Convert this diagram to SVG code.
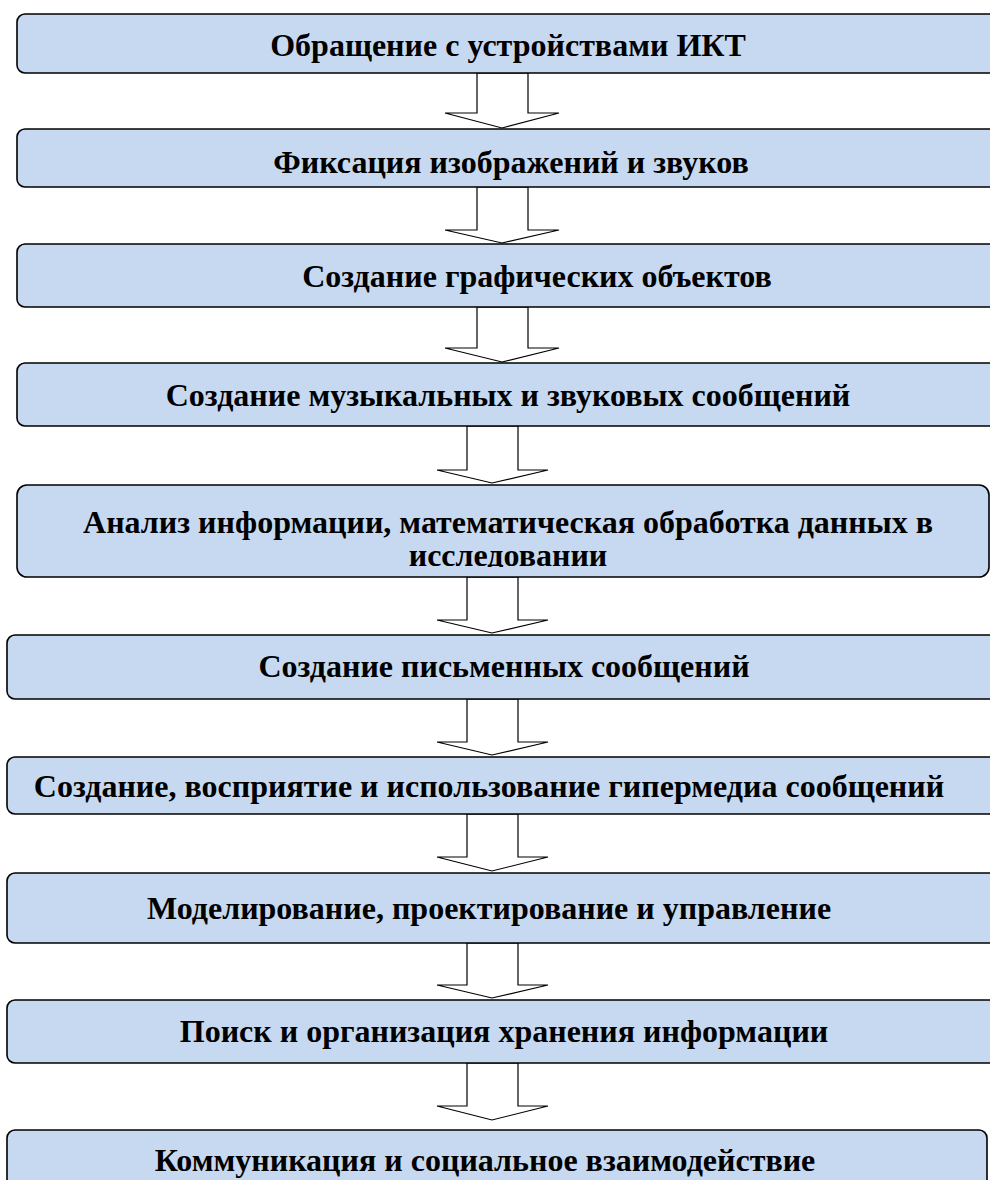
<svg xmlns="http://www.w3.org/2000/svg" width="990" height="1180" viewBox="0 0 990 1180">
<defs>
<style>
.box{fill:#C6D9F1;stroke:#000;stroke-width:1.6}
.arr{fill:#fff;stroke:#000;stroke-width:1.2;stroke-linejoin:miter}
.t{font-family:"Liberation Serif","Times New Roman",serif;font-weight:bold;font-size:32px;fill:#000;text-anchor:middle}
</style>
<clipPath id="clip5"><rect x="0" y="480" width="990" height="87"/></clipPath>
</defs>
<rect width="990" height="1180" fill="#fff"/>
<g id="connectors">
<polygon class="arr" points="477,73 528,73 528,113 559,113 502,128 445,113 477,113"/>
<polygon class="arr" points="477,187 528,187 528,230 559,230 502,243 445,230 477,230"/>
<polygon class="arr" points="477,307 528,307 528,348 559,348 502,362 445,348 477,348"/>
<polygon class="arr" points="467,426 518,426 518,470 548,470 492,483 437,470 467,470"/>
<polygon class="arr" points="467,577 518,577 518,620 548,620 492,633 437,620 467,620"/>
<polygon class="arr" points="467,699 518,699 518,742 548,742 492,755 437,742 467,742"/>
<polygon class="arr" points="467,814 518,814 518,857 548,857 492,871 437,857 467,857"/>
<polygon class="arr" points="467,943 518,943 518,985 548,985 492,998 437,985 467,985"/>
<polygon class="arr" points="467,1063 518,1063 518,1106 548,1106 492,1120 437,1106 467,1106"/>
</g>
<g id="n1"><rect class="box" x="17" y="14" width="990" height="59" rx="8"/><text class="t" x="508" y="56">Обращение с устройствами ИКТ</text></g>
<g id="n2"><rect class="box" x="17" y="129" width="990" height="58" rx="8"/><text class="t" x="511" y="173">Фиксация изображений и звуков</text></g>
<g id="n3"><rect class="box" x="17" y="244" width="990" height="63" rx="8"/><text class="t" x="537" y="287">Создание графических объектов</text></g>
<g id="n4"><rect class="box" x="17" y="363" width="990" height="63" rx="8"/><text class="t" x="508" y="406">Создание музыкальных и звуковых сообщений</text></g>
<g id="n5"><rect class="box" x="17" y="485" width="972" height="92" rx="10"/><text class="t" x="508" y="533">Анализ информации, математическая обработка данных в</text><text class="t" x="508" y="566" clip-path="url(#clip5)">исследовании</text></g>
<g id="n6"><rect class="box" x="7" y="635" width="1000" height="64" rx="8"/><text class="t" x="504" y="677">Создание письменных сообщений</text></g>
<g id="n7"><rect class="box" x="7" y="757" width="1000" height="57" rx="8"/><text class="t" x="489" y="797">Создание, восприятие и использование гипермедиа сообщений</text></g>
<g id="n8"><rect class="box" x="7" y="873" width="1000" height="70" rx="8"/><text class="t" x="489" y="919">Моделирование, проектирование и управление</text></g>
<g id="n9"><rect class="box" x="7" y="1000" width="1000" height="63" rx="8"/><text class="t" x="504" y="1042">Поиск и организация хранения информации</text></g>
<g id="n10"><rect class="box" x="7" y="1130" width="980" height="70" rx="8"/><text class="t" x="485" y="1171">Коммуникация и социальное взаимодействие</text></g>
</svg>
